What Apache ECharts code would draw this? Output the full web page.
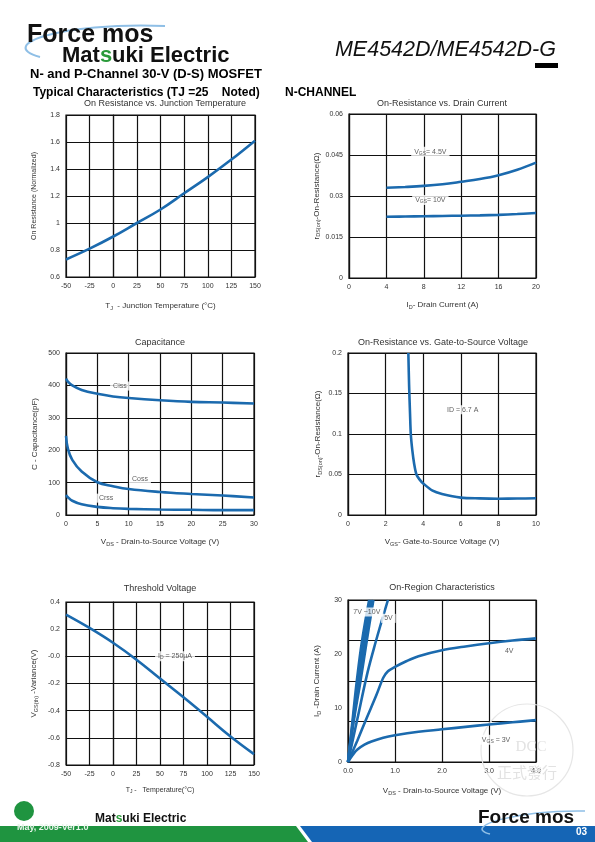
<!DOCTYPE html>
<html><head><meta charset="utf-8">
<script src="https://cdn.jsdelivr.net/npm/echarts@6/dist/echarts.min.js"></script>
<style>html,body{margin:0;padding:0;background:#fff}#c{width:595px;height:842px}</style>
</head><body><div id="c"></div>
<script>
// ---------- DATA ----------
// 1. On Resistance vs. Junction Temperature
const tjTemp = [-50, -25, 0, 25, 50, 75, 100, 125, 150];
const rdsNormalized = [0.73, 0.81, 0.90, 1.00, 1.10, 1.22, 1.34, 1.47, 1.61];
// 2. On-Resistance vs. Drain Current
const drainCurrent = [4, 6, 8, 10, 12, 14, 16, 18, 20];
const rdsVgs45 = [0.0330, 0.0333, 0.0337, 0.0343, 0.0352, 0.0362, 0.0376, 0.0396, 0.0422];
const rdsVgs10 = [0.0224, 0.0225, 0.0226, 0.0227, 0.0228, 0.0229, 0.0231, 0.0234, 0.0238];
// 3. Capacitance
const vdsCap = [0, 0.3, 1, 2.5, 5, 7.5, 10, 15, 20, 25, 30];
const ciss = [421, 412, 400, 386, 374, 366, 361, 354, 349, 347, 344];
const coss = [244, 205, 170, 134, 101, 89, 80, 71, 65, 60, 54];
const crss = [62, 55, 44, 33, 25, 21, 19, 17, 16, 15, 15];
// 4. On-Resistance vs. Gate-to-Source Voltage
const vgsGate = [3.21, 3.25, 3.30, 3.34, 3.42, 3.52, 3.64, 3.80, 4.0, 4.5, 5, 6, 7, 8, 9, 10];
const rdsGate = [0.2, 0.16, 0.125, 0.1, 0.08, 0.063, 0.05, 0.044, 0.039, 0.030, 0.026, 0.0215, 0.0205, 0.0201, 0.0203, 0.0206];
// 5. Threshold Voltage
const vthVariance = [0.307, 0.209, 0.100, -0.025, -0.164, -0.302, -0.445, -0.590, -0.720];
// 6. On-Region Characteristics
const vds3V = [0, 0.1, 0.2, 0.35, 0.5, 0.75, 1, 1.5, 2, 2.5, 3, 3.5, 4];
const id3V = [0, 1.3, 2.3, 3.2, 3.8, 4.5, 4.95, 5.6, 6.05, 6.5, 6.95, 7.35, 7.75];
const vds4V = [0, 0.2, 0.4, 0.6, 0.75, 0.85, 1, 1.25, 1.5, 2, 2.5, 3, 3.5, 4];
const id4V = [0, 4, 8.2, 12.3, 15.6, 16.8, 17.6, 18.7, 19.6, 20.7, 21.4, 22.0, 22.5, 22.9];
const vds5V = [0, 0.2, 0.4, 0.55, 0.68, 0.85];
const id5V = [0, 8, 16, 21, 25, 30];
const idHigh = [0, 8, 15.2, 22.5, 30];
const vds7V = [0, 0.13, 0.27, 0.40, 0.54];
const vds8V = [0, 0.12, 0.24, 0.365, 0.51];
const vds9V = [0, 0.11, 0.215, 0.33, 0.48];
const vds10V = [0, 0.10, 0.19, 0.30, 0.45];

// ---------- STYLE ----------
const FONT = "'Liberation Sans', Arial, sans-serif";
const BLUE = '#1b6aae';
const TXT = '#333';
const zip = (xs, ys) => xs.map((x, i) => [x, ys[i]]);

const grids = [
  {left: 66, top: 115, width: 189, height: 162},
  {left: 349, top: 114, width: 187, height: 164},
  {left: 66, top: 353, width: 188, height: 162},
  {left: 348, top: 353, width: 188, height: 162},
  {left: 66, top: 602, width: 188, height: 163},
  {left: 348, top: 600, width: 188, height: 162}
].map(g => Object.assign({show: true, borderColor: '#111', borderWidth: 1.2, backgroundColor: '#fff', outerBoundsMode: 'none', containLabel: false}, g));

const subRich = {
  n: {fontSize: 8, color: TXT, fontFamily: FONT},
  s: {fontSize: 5.5, color: TXT, fontFamily: FONT, padding: [4, 0, 0, 0]},
  m: {fontSize: 7, color: TXT, fontFamily: FONT},
  ms: {fontSize: 5, color: TXT, fontFamily: FONT, padding: [3, 0, 0, 0]}
};

function axis(gi, min, max, interval, name, gap, fmt, nameSize) {
  return {
    type: 'value', gridIndex: gi, min, max, interval,
    name, nameLocation: 'middle', nameGap: gap,
    nameTextStyle: {fontSize: nameSize || 8, color: TXT, fontFamily: FONT, rich: subRich},
    axisLine: {show: true, lineStyle: {color: '#111', width: 1.2}},
    axisTick: {show: false},
    axisLabel: {fontSize: 7, color: TXT, fontFamily: FONT, margin: 6, formatter: fmt},
    splitLine: {show: true, lineStyle: {color: '#111', width: 1.2}}
  };
}

const xAxis = [
  axis(0, -50, 150, 25, '{n|T}{s|J}{n|  - Junction Temperature (°C)}', 24),
  axis(1, 0, 20, 4, '{n|I}{s|D}{n|- Drain Current (A)}', 22),
  axis(2, 0, 30, 5, '{n|V}{s|DS}{n| - Drain-to-Source Voltage (V)}', 22),
  axis(3, 0, 10, 2, '{n|V}{s|GS}{n|- Gate-to-Source Voltage (V)}', 22),
  axis(4, -50, 150, 25, '{m|T}{ms|J}{m| -   Temperature(°C)}', 21),
  axis(5, 0, 4, 1, '{n|V}{s|DS}{n| - Drain-to-Source Voltage (V)}', 24, v => v.toFixed(1))
];
const yAxis = [
  axis(0, 0.6, 1.8, 0.2, 'On Resistance (Normalized)', 28, null, 7),
  axis(1, 0, 0.06, 0.015, '{n|r}{s|DS(on)}{n|-On-Resistance(Ω)}', 26),
  axis(2, 0, 500, 100, 'C - Capacitance(pF)', 27),
  axis(3, 0, 0.2, 0.05, '{n|r}{s|DS(on)}{n|-On-Resistance(Ω)}', 25),
  axis(4, -0.8, 0.4, 0.2, '{n|V}{s|GS(th)}{n| -Variance(V)}', 27, v => (Math.abs(v) < 1e-9 ? '-0.0' : v.toFixed(1))),
  Object.assign(axis(5, 0, 30, 10, '{n|I}{s|D}{n| -Drain Current (A)}', 26), {splitLine: {show: false}}),
  Object.assign(axis(5, 0, 30, 7.5, '', 0), {axisLabel: {show: false}, axisLine: {show: false}, position: 'left'})
];

function line(i, yi, data, sm) {
  return {type: 'line', xAxisIndex: i, yAxisIndex: yi, data, showSymbol: false, symbol: 'none',
    smooth: sm === undefined ? 0.4 : sm, lineStyle: {color: BLUE, width: 2.6}, silent: true, animation: false, z: 3};
}
function notes(i, yi, items) {
  return {type: 'scatter', xAxisIndex: i, yAxisIndex: yi, symbolSize: 0, silent: true, animation: false, z: 5,
    data: items.map(it => ({value: it[0], label: {show: true, position: 'inside', formatter: it[1],
      backgroundColor: '#fff', padding: [1, 3], fontSize: 7, color: TXT, fontFamily: FONT, rich: subRich}}))};
}

// annotation texts and their data coordinates
const notesDrain = [[[8.7, 0.0462], '{m|V}{ms|GS}{m|= 4.5V}'], [[8.7, 0.0285], '{m|V}{ms|GS}{m|= 10V}']];
const notesCap = [[[8.6, 398], 'Ciss'], [[11.8, 111], 'Coss'], [[6.4, 52], 'Crss']];
const notesGate = [[[6.1, 0.13], 'ID = 6.7 A']];
const notesVth = [[[66, 0.0], '{m|I}{ms|D}{m| = 250µA}']];
const notesRegion = [[[0.40, 27.8], '7V ~10V'], [[0.86, 26.6], '5V'], [[3.43, 20.6], '4V'], [[3.15, 4.1], '{m|V}{ms|GS}{m| = 3V}']];

const series = [
  line(0, 0, zip(tjTemp, rdsNormalized)),
  line(1, 1, zip(drainCurrent, rdsVgs45)),
  line(1, 1, zip(drainCurrent, rdsVgs10)),
  line(2, 2, zip(vdsCap, ciss)),
  line(2, 2, zip(vdsCap, coss)),
  line(2, 2, zip(vdsCap, crss)),
  line(3, 3, zip(vgsGate, rdsGate), 0.3),
  line(4, 4, zip(tjTemp, vthVariance)),
  line(5, 5, zip(vds3V, id3V)),
  line(5, 5, zip(vds4V, id4V), 0.3),
  line(5, 5, zip(vds5V, id5V)),
  line(5, 5, zip(vds7V, idHigh)),
  line(5, 5, zip(vds8V, idHigh)),
  line(5, 5, zip(vds9V, idHigh)),
  line(5, 5, zip(vds10V, idHigh)),
  notes(1, 1, notesDrain),
  notes(2, 2, notesCap),
  notes(3, 3, notesGate),
  notes(4, 4, notesVth),
  notes(5, 5, notesRegion)
];

function txt(x, y, text, opt) {
  return {type: 'text', x, y, z: 10, silent: true,
    style: Object.assign({text, fontFamily: FONT, fontSize: 9, fill: TXT, textAlign: 'center', textVerticalAlign: 'middle'}, opt || {})};
}

const graphic = [
  // watermark
  {type: 'circle', shape: {cx: 527, cy: 750, r: 46}, style: {fill: 'none', stroke: '#e6e6e6', lineWidth: 1.2}, z: 1, silent: true},
  txt(531, 747, 'DCC', {fontFamily: "'Liberation Serif', serif", fontSize: 15, fill: '#e2e2e2'}),
  txt(527, 772, '正式發行', {fontFamily: "'Noto Sans CJK TC', sans-serif", fontSize: 15, fill: '#e2e2e2'}),
  // header
  {type: 'bezierCurve', shape: {x1: 40, y1: 57, cpx1: -5, cpy1: 45, cpx2: 60, cpy2: 22, x2: 165, y2: 26},
    style: {stroke: '#8fbfe6', lineWidth: 2, fill: 'none'}, z: 9, silent: true},
  txt(27, 35, 'Force mos', {textAlign: 'left', fontSize: 25, fontWeight: 'bold', fill: '#111'}),
  txt(62, 56, '{a|Mat}{g|s}{a|uki Electric}', {textAlign: 'left', rich: {
    a: {fontSize: 22, fontWeight: 'bold', fill: '#111', fontFamily: FONT},
    g: {fontSize: 22, fontWeight: 'bold', fill: '#2a9a3a', fontFamily: FONT}}}),
  txt(556, 50, 'ME4542D/ME4542D-G', {textAlign: 'right', fontSize: 21.5, fontStyle: 'italic', fill: '#111'}),
  {type: 'rect', shape: {x: 535, y: 63, width: 23, height: 5}, style: {fill: '#000'}, z: 10, silent: true},
  txt(30, 74, 'N- and P-Channel 30-V (D-S) MOSFET', {textAlign: 'left', fontSize: 13, fontWeight: 'bold', fill: '#000'}),
  txt(33, 93, 'Typical Characteristics (TJ =25    Noted)', {textAlign: 'left', fontSize: 12, fontWeight: 'bold', fill: '#000'}),
  txt(285, 93, 'N-CHANNEL', {textAlign: 'left', fontSize: 12, fontWeight: 'bold', fill: '#000'}),
  // chart titles
  txt(165, 103.5, 'On Resistance vs. Junction Temperature'),
  txt(442, 104, 'On-Resistance vs. Drain Current'),
  txt(160, 343, 'Capacitance'),
  txt(443, 343, 'On-Resistance vs. Gate-to-Source Voltage'),
  txt(160, 589, 'Threshold Voltage'),
  txt(442, 588, 'On-Region Characteristics'),
  // footer
  {type: 'polygon', shape: {points: [[0, 826], [296, 826], [308, 842], [0, 842]]}, style: {fill: '#1f9440'}, z: 8, silent: true},
  {type: 'polygon', shape: {points: [[300, 826], [595, 826], [595, 842], [312, 842]]}, style: {fill: '#1565b5'}, z: 8, silent: true},
  txt(17, 828, 'May, 2009-Ver1.0', {textAlign: 'left', fontSize: 9, fontWeight: 'bold', fill: '#e8f4ea', z: 9}),
  {type: 'circle', shape: {cx: 24, cy: 811, r: 10}, style: {fill: '#1f9440'}, z: 10, silent: true},
  txt(95, 819, '{a|Mat}{g|s}{a|uki Electric}', {textAlign: 'left', rich: {
    a: {fontSize: 12, fontWeight: 'bold', fill: '#111', fontFamily: FONT},
    g: {fontSize: 12, fontWeight: 'bold', fill: '#2a9a3a', fontFamily: FONT}}}),
  {type: 'bezierCurve', shape: {x1: 490, y1: 834, cpx1: 460, cpy1: 826, cpx2: 520, cpy2: 810, x2: 585, y2: 811},
    style: {stroke: '#8fbfe6', lineWidth: 1.5, fill: 'none'}, z: 10, silent: true},
  txt(478, 818, 'Force mos', {textAlign: 'left', fontSize: 19, fontWeight: 'bold', fill: '#111'}),
  txt(587, 832, '03', {textAlign: 'right', fontSize: 10, fontWeight: 'bold', fill: '#fff'})
];

const chart = echarts.init(document.getElementById('c'), null, {renderer: 'canvas'});
chart.setOption({animation: false, backgroundColor: '#fff', grid: grids, xAxis, yAxis, series, graphic});
</script></body></html>
